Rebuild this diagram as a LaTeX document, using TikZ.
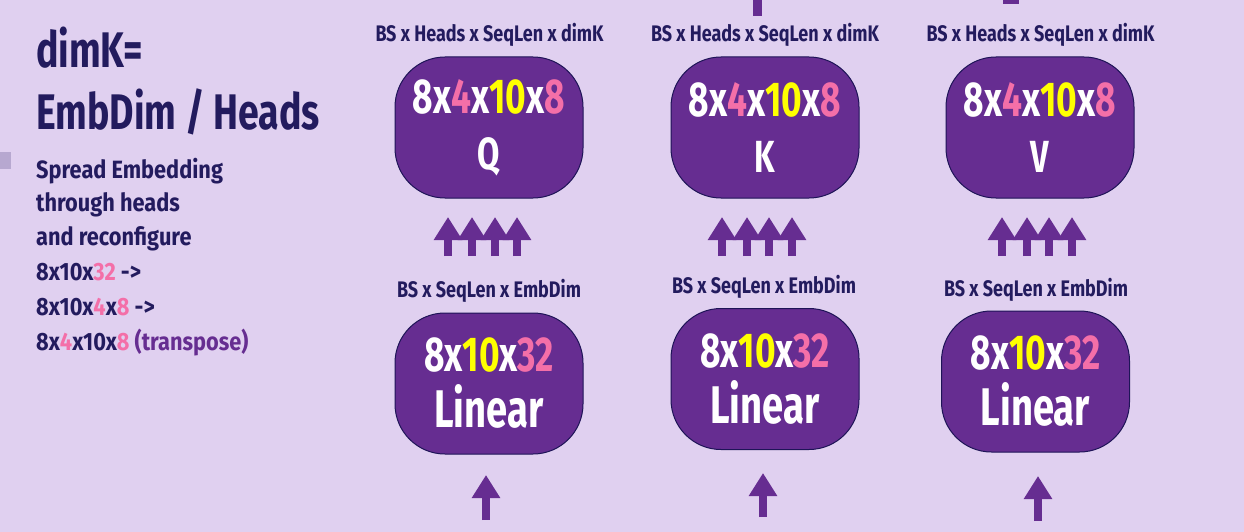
\documentclass[tikz,border=0pt]{standalone}
\usepackage{fontspec}
\setmainfont{Fira Sans}[FakeStretch=0.8]
\newfontfamily\cnd{Fira Sans}[FakeStretch=0.72]
\newfontfamily\hdf{Fira Sans}[FakeStretch=0.75]
\newfontfamily\wdf{Fira Sans}[FakeStretch=0.87]
\usetikzlibrary{arrows.meta,positioning}

\definecolor{bgc}{HTML}{E0D0F0}
\definecolor{boxc}{HTML}{662D91}
\definecolor{edgec}{HTML}{1E1457}
\definecolor{navyc}{HTML}{231B5E}
\definecolor{pinkc}{HTML}{F46FA8}
\definecolor{yelc}{HTML}{FFFF00}
\definecolor{markc}{HTML}{B7A8D0}

\newcommand{\pk}[1]{\textcolor{pinkc}{#1}}
\newcommand{\yl}[1]{\textcolor{yelc}{#1}}

\tikzset{
  blk/.style={draw=edgec, line width=1pt, fill=boxc, rounded corners=50pt,
    minimum width=188pt, minimum height=141pt, inner sep=0pt,
    align=center, text=white, font=\cnd\bfseries\fontsize{49}{56}\selectfont},
  dimlbl/.style={text=navyc, anchor=base, inner sep=0pt,
    font=\bfseries\fontsize{22.5}{27}\selectfont},
  headl/.style={text=navyc, anchor=base west, inner sep=0pt,
    font=\hdf\bfseries\fontsize{50}{60}\selectfont},
  note/.style={text=navyc, anchor=base west, inner sep=0pt,
    font=\wdf\bfseries\fontsize{25}{30}\selectfont},
  arr/.style={draw=boxc, line width=8pt, -{Triangle[width=27pt,length=23pt]}}
}

\begin{document}
\begin{tikzpicture}[x=1pt,y=-1pt]
\fill[bgc] (0,0) rectangle (1244,532);
\useasboundingbox (0,0) rectangle (1244,532);

% left column
\fill[markc] (0,152) rectangle (11,169);
\node[headl] (dimk) at (36,68) {dimK=};
\node[headl] (split) at (36,130) {EmbDim / Heads};
\node[note] (n1) at (36,178) {Spread Embedding};
\node[note] (n2) at (36,211) {through heads};
\node[note] (n3) at (36,245) {and reconfigure};
\node[note] (n4) at (36,280) {8x10x\pk{32} ->};
\node[note] (n5) at (36,315) {8x10x\pk{4}x\pk{8} ->};
\node[note] (n6) at (36,350) {8x\pk{4}x10x\pk{8} \textcolor{boxc}{(transpose)}};

% bits coming in from above
\fill[boxc] (753,0) rectangle (762,16);
\fill[boxc] (1003,0) rectangle (1019,4);

% heads
\node[dimlbl] (tq) at (489.5,42) {BS x Heads x SeqLen x dimK};
\node[dimlbl] (tk) at (765,42) {BS x Heads x SeqLen x dimK};
\node[dimlbl] (tv) at (1040.5,42) {BS x Heads x SeqLen x dimK};
\node[blk] (q) at (489,127.5) {8x\pk{4}x\yl{10}x\pk{8}\\\fontsize{45}{56}\selectfont Q};
\node[blk] (k) at (765,127.5) {8x\pk{4}x\yl{10}x\pk{8}\\\fontsize{45}{56}\selectfont K};
\node[blk] (v) at (1040,127.5) {8x\pk{4}x\yl{10}x\pk{8}\\\fontsize{45}{56}\selectfont V};

% reshape arrows
\foreach \x in {448,472,495,517,722,747,769,792,1002,1027,1049,1072}
  \draw[arr] (\x,256) -- (\x,217);

% linear layers
\node[dimlbl] (bq) at (489,297) {BS x SeqLen x EmbDim};
\node[dimlbl] (bk) at (764,293) {BS x SeqLen x EmbDim};
\node[dimlbl] (bv) at (1036,296) {BS x SeqLen x EmbDim};
\node[blk] (lq) at (489,383.5) {8x\yl{10}x\pk{32}\\\fontsize{53}{58}\selectfont Linear};
\node[blk] (lk) at (765,379) {8x\yl{10}x\pk{32}\\\fontsize{53}{58}\selectfont Linear};
\node[blk] (lv) at (1035.5,381.5) {8x\yl{10}x\pk{32}\\\fontsize{53}{58}\selectfont Linear};

% inputs
\coordinate (iq) at (486,520);
\coordinate (ik) at (763,517);
\coordinate (iv) at (1038,521);
\draw[arr] (iq) -- (iq |- 0,475);
\draw[arr] (ik) -- (ik |- 0,473);
\draw[arr] (iv) -- (iv |- 0,476);
\end{tikzpicture}
\end{document}
